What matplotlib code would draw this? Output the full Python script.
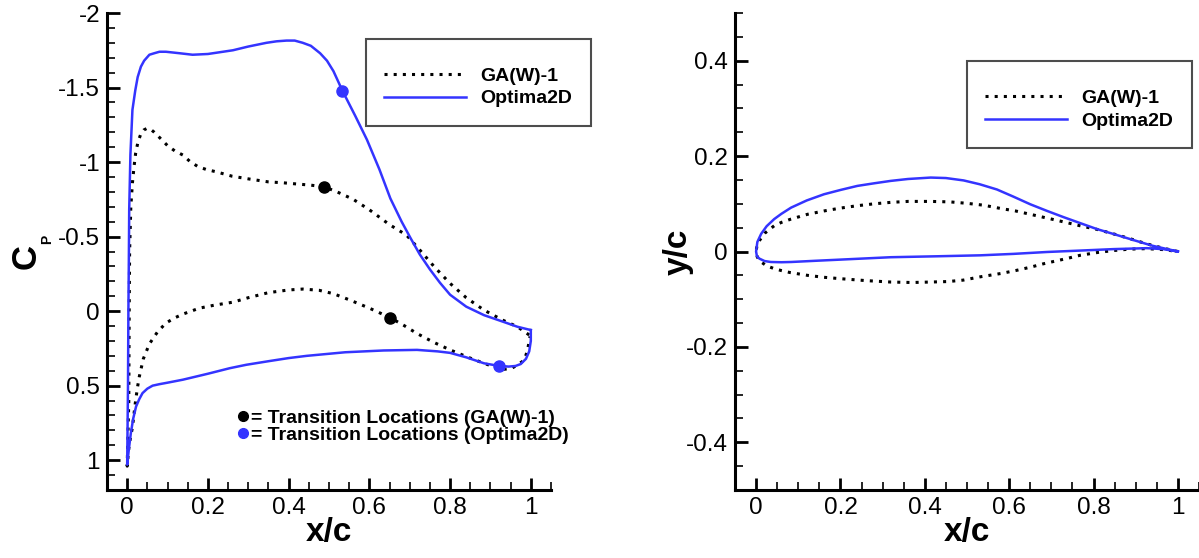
import matplotlib
matplotlib.use('Agg')
import matplotlib.pyplot as plt
from matplotlib.lines import Line2D
from matplotlib.ticker import MultipleLocator, FormatStrFormatter

plt.rcParams['font.family'] = ['Liberation Sans', 'DejaVu Sans']
plt.rcParams['axes.unicode_minus'] = False

BLUE = '#3434ff'

# --- pressure distributions, leading edge -> trailing edge ---
ga_up_x = [0.0, 0.004, 0.005, 0.006, 0.009, 0.013, 0.017, 0.021, 0.026, 0.03, 0.034, 0.041,
           0.049, 0.058, 0.067, 0.08, 0.10, 0.118, 0.138, 0.155, 0.175, 0.196, 0.22, 0.26,
           0.303, 0.35, 0.386, 0.42, 0.455, 0.488, 0.52, 0.56, 0.60, 0.65, 0.692, 0.725,
           0.76, 0.80, 0.84, 0.884, 0.93, 0.967, 0.996]
ga_up_cp = [1.04, 0.6, 0.0, -0.4, -0.70, -0.86, -0.97, -1.06, -1.125, -1.16, -1.19, -1.215,
            -1.226, -1.22, -1.20, -1.165, -1.11, -1.075, -1.047, -1.005, -0.97, -0.95, -0.935, -0.905,
            -0.886, -0.867, -0.861, -0.853, -0.845, -0.834, -0.80, -0.75, -0.68, -0.58, -0.51, -0.41,
            -0.30, -0.186, -0.09, -0.007, 0.06, 0.105, 0.16]

ga_lo_x = [0.0, 0.004, 0.008, 0.013, 0.02, 0.025, 0.03, 0.04, 0.055, 0.075, 0.096, 0.118,
           0.138, 0.179, 0.216, 0.262, 0.30, 0.35, 0.40, 0.435, 0.475, 0.511, 0.552, 0.60,
           0.651, 0.685, 0.718, 0.76, 0.80, 0.845, 0.884, 0.91, 0.934, 0.952, 0.967, 0.978,
           0.985, 0.992, 0.998]
ga_lo_cp = [1.04, 0.92, 0.85, 0.78, 0.62, 0.52, 0.44, 0.32, 0.22, 0.14, 0.08, 0.045,
            0.02, -0.02, -0.04, -0.06, -0.09, -0.124, -0.142, -0.148, -0.14, -0.117, -0.074, -0.02,
            0.043, 0.095, 0.15, 0.21, 0.26, 0.31, 0.35, 0.375, 0.39, 0.385, 0.36, 0.34,
            0.32, 0.26, 0.17]

opt_up_x = [0.0, 0.002, 0.003, 0.004, 0.005, 0.008, 0.013, 0.02, 0.026, 0.034, 0.042, 0.055,
            0.067, 0.08, 0.096, 0.13, 0.162, 0.20, 0.262, 0.30, 0.345, 0.37, 0.395, 0.415,
            0.435, 0.455, 0.478, 0.495, 0.511, 0.533, 0.565, 0.594, 0.625, 0.652, 0.68, 0.702,
            0.725, 0.75, 0.775, 0.80, 0.84, 0.884, 0.93, 0.967, 1.0]
opt_up_cp = [1.03, 0.5, 0.0, -0.3, -0.68, -1.05, -1.35, -1.48, -1.57, -1.64, -1.68, -1.72,
             -1.73, -1.74, -1.74, -1.73, -1.72, -1.725, -1.75, -1.775, -1.80, -1.81, -1.815, -1.815,
             -1.80, -1.78, -1.73, -1.68, -1.61, -1.48, -1.31, -1.15, -0.95, -0.756, -0.60, -0.49,
             -0.38, -0.28, -0.19, -0.11, -0.03, 0.027, 0.07, 0.105, 0.127]

opt_lo_x = [0.0, 0.004, 0.009, 0.015, 0.022, 0.03, 0.038, 0.05, 0.063, 0.08, 0.10, 0.138,
            0.20, 0.254, 0.295, 0.35, 0.40, 0.445, 0.54, 0.635, 0.718, 0.769, 0.80, 0.84,
            0.884, 0.92, 0.945, 0.962, 0.975, 0.988, 0.996, 1.0, 1.0]
opt_lo_cp = [1.03, 0.93, 0.82, 0.72, 0.64, 0.59, 0.55, 0.52, 0.50, 0.49, 0.48, 0.46,
             0.42, 0.383, 0.36, 0.336, 0.315, 0.30, 0.276, 0.264, 0.26, 0.27, 0.28, 0.31,
             0.35, 0.367, 0.372, 0.368, 0.355, 0.32, 0.27, 0.2, 0.127]

# transition points (upper, lower)
ga_tr_x = [0.488, 0.651]
ga_tr_cp = [-0.834, 0.043]
opt_tr_x = [0.533, 0.92]
opt_tr_cp = [-1.48, 0.367]

# --- airfoil geometry ---
ga_geo_up_x = [0.0, 0.002, 0.008, 0.02, 0.043, 0.06, 0.083, 0.122, 0.161, 0.2, 0.24, 0.28,
               0.319, 0.36, 0.414, 0.46, 0.5, 0.54, 0.581, 0.615, 0.65, 0.71, 0.768, 0.81,
               0.847, 0.886, 0.926, 0.965, 1.0]
ga_geo_up_y = [0.0, 0.012, 0.023, 0.038, 0.054, 0.061, 0.068, 0.078, 0.085, 0.091, 0.096, 0.1,
               0.103, 0.105, 0.105, 0.104, 0.101, 0.097, 0.09, 0.085, 0.078, 0.066, 0.054, 0.046,
               0.037, 0.027, 0.016, 0.007, 0.0]
ga_geo_lo_x = [0.0, 0.003, 0.012, 0.025, 0.043, 0.06, 0.08, 0.122, 0.16, 0.20, 0.26, 0.319,
               0.37, 0.414, 0.455, 0.491, 0.532, 0.581, 0.615, 0.65, 0.68, 0.71, 0.74, 0.768,
               0.81, 0.847, 0.886, 0.926, 0.965, 1.0]
ga_geo_lo_y = [0.0, -0.012, -0.022, -0.03, -0.036, -0.04, -0.044, -0.05, -0.054, -0.057, -0.061, -0.064,
               -0.065, -0.064, -0.063, -0.06, -0.053, -0.046, -0.04, -0.033, -0.026, -0.02, -0.014, -0.008,
               -0.002, 0.002, 0.005, 0.006, 0.004, 0.0]

opt_geo_up_x = [0.0, 0.003, 0.012, 0.025, 0.043, 0.06, 0.083, 0.12, 0.161, 0.2, 0.24, 0.28,
                0.319, 0.36, 0.414, 0.45, 0.492, 0.53, 0.571, 0.61, 0.65, 0.69, 0.729, 0.77,
                0.808, 0.85, 0.887, 0.94, 1.0]
opt_geo_up_y = [0.0, 0.02, 0.037, 0.053, 0.068, 0.079, 0.092, 0.107, 0.12, 0.129, 0.1375, 0.143,
                0.148, 0.152, 0.155, 0.154, 0.149, 0.141, 0.13, 0.115, 0.099, 0.085, 0.072, 0.059,
                0.047, 0.036, 0.026, 0.012, 0.0]
opt_geo_lo_x = [0.0, 0.002, 0.008, 0.02, 0.035, 0.06, 0.083, 0.14, 0.20, 0.319, 0.43, 0.532,
                0.61, 0.69, 0.77, 0.847, 0.926, 0.965, 1.0]
opt_geo_lo_y = [0.0, -0.01, -0.015, -0.02, -0.022, -0.0225, -0.022, -0.0195, -0.017, -0.012, -0.01, -0.008,
                -0.005, -0.001, 0.002, 0.005, 0.007, 0.005, 0.0]


def loop(ux, uy, lx, ly):
    # trailing edge -> leading edge over the upper side, then back along the lower side
    return ux[::-1] + lx, uy[::-1] + ly


def style_axes(ax):
    for s in ['top', 'right']:
        ax.spines[s].set_visible(False)
    for s in ['left', 'bottom']:
        ax.spines[s].set_linewidth(2.2)
    ax.tick_params(which='both', direction='in', labelsize=17.5, pad=5)
    ax.tick_params(which='major', length=9, width=2)
    ax.tick_params(which='minor', length=5.5, width=1.2)
    ax.xaxis.set_major_locator(MultipleLocator(0.2))
    ax.xaxis.set_minor_locator(MultipleLocator(0.05))
    ax.xaxis.set_major_formatter(FormatStrFormatter('%g'))
    ax.yaxis.set_major_formatter(FormatStrFormatter('%g'))
    ax.set_xlim(-0.05, 1.05)
    ax.set_xlabel('x/c', fontsize=24, fontweight='bold')
    ax.xaxis.set_label_coords(0.5, -0.057)


def add_legend(ax, lines, x, y):
    leg = ax.legend(lines, ['GA(W)-1', 'Optima2D'], loc='upper left', bbox_to_anchor=(x, y),
                    borderaxespad=0, prop={'weight': 'bold', 'size': 14}, handlelength=4.2,
                    handletextpad=0.75, borderpad=0.95, labelspacing=0.25, fancybox=False,
                    framealpha=1, edgecolor='0.3', title=' ', title_fontsize=4)
    leg.get_frame().set_linewidth(1.5)
    return leg


fig = plt.figure(figsize=(11.99, 5.58), dpi=100)
ax1 = fig.add_axes([107 / 1199, 68 / 558, 444 / 1199, 477 / 558])
ax2 = fig.add_axes([735 / 1199, 68 / 558, 464 / 1199, 477 / 558])

# Cp plot
x, y = loop(ga_up_x, ga_up_cp, ga_lo_x, ga_lo_cp)
l1, = ax1.plot(x, y, color='k', lw=2.2, ls=(0, (1, 2)))
x, y = loop(opt_up_x, opt_up_cp, opt_lo_x, opt_lo_cp)
l2, = ax1.plot(x, y, color=BLUE, lw=1.8)
ax1.plot(ga_tr_x, ga_tr_cp, 'o', color='k', ms=8, zorder=5)
ax1.plot(opt_tr_x, opt_tr_cp, 'o', color=BLUE, ms=8, zorder=5)

style_axes(ax1)
ax1.set_ylim(1.2, -2)
ax1.yaxis.set_major_locator(MultipleLocator(0.5))
ax1.yaxis.set_minor_locator(MultipleLocator(0.1))
ax1.text(-0.182, 0.49, 'C', transform=ax1.transAxes, rotation=90, fontsize=25,
         fontweight='bold', ha='center', va='center')
ax1.text(-0.135, 0.525, 'P', transform=ax1.transAxes, rotation=90, fontsize=10,
         fontweight='bold', ha='center', va='center')

leg1 = add_legend(ax1, [l1, l2], 0.583, 0.9455)
ax1.add_artist(leg1)
marks = [Line2D([], [], ls='none', marker='o', color='k', ms=7),
         Line2D([], [], ls='none', marker='o', color=BLUE, ms=7)]
ax1.legend(marks, ['= Transition Locations (GA(W)-1)', '= Transition Locations (Optima2D)'],
           loc='upper left', bbox_to_anchor=(0.2937, 0.17), borderaxespad=0, borderpad=0,
           frameon=False, handlelength=0.6, handletextpad=0.1, labelspacing=0.0,
           prop={'weight': 'bold', 'size': 14})

# geometry plot
x, y = loop(ga_geo_up_x, ga_geo_up_y, ga_geo_lo_x, ga_geo_lo_y)
g1, = ax2.plot(x, y, color='k', lw=2.2, ls=(0, (1, 2)))
x, y = loop(opt_geo_up_x, opt_geo_up_y, opt_geo_lo_x, opt_geo_lo_y)
g2, = ax2.plot(x, y, color=BLUE, lw=1.8)

style_axes(ax2)
ax2.set_ylim(-0.5, 0.5)
ax2.yaxis.set_major_locator(MultipleLocator(0.2))
ax2.yaxis.set_minor_locator(MultipleLocator(0.05))
ax2.set_ylabel('y/c', fontsize=24, fontweight='bold')
ax2.yaxis.set_label_coords(-0.088, 0.5)
add_legend(ax2, [g1, g2], 0.499, 0.899)

fig.savefig('out.png', dpi=100)
